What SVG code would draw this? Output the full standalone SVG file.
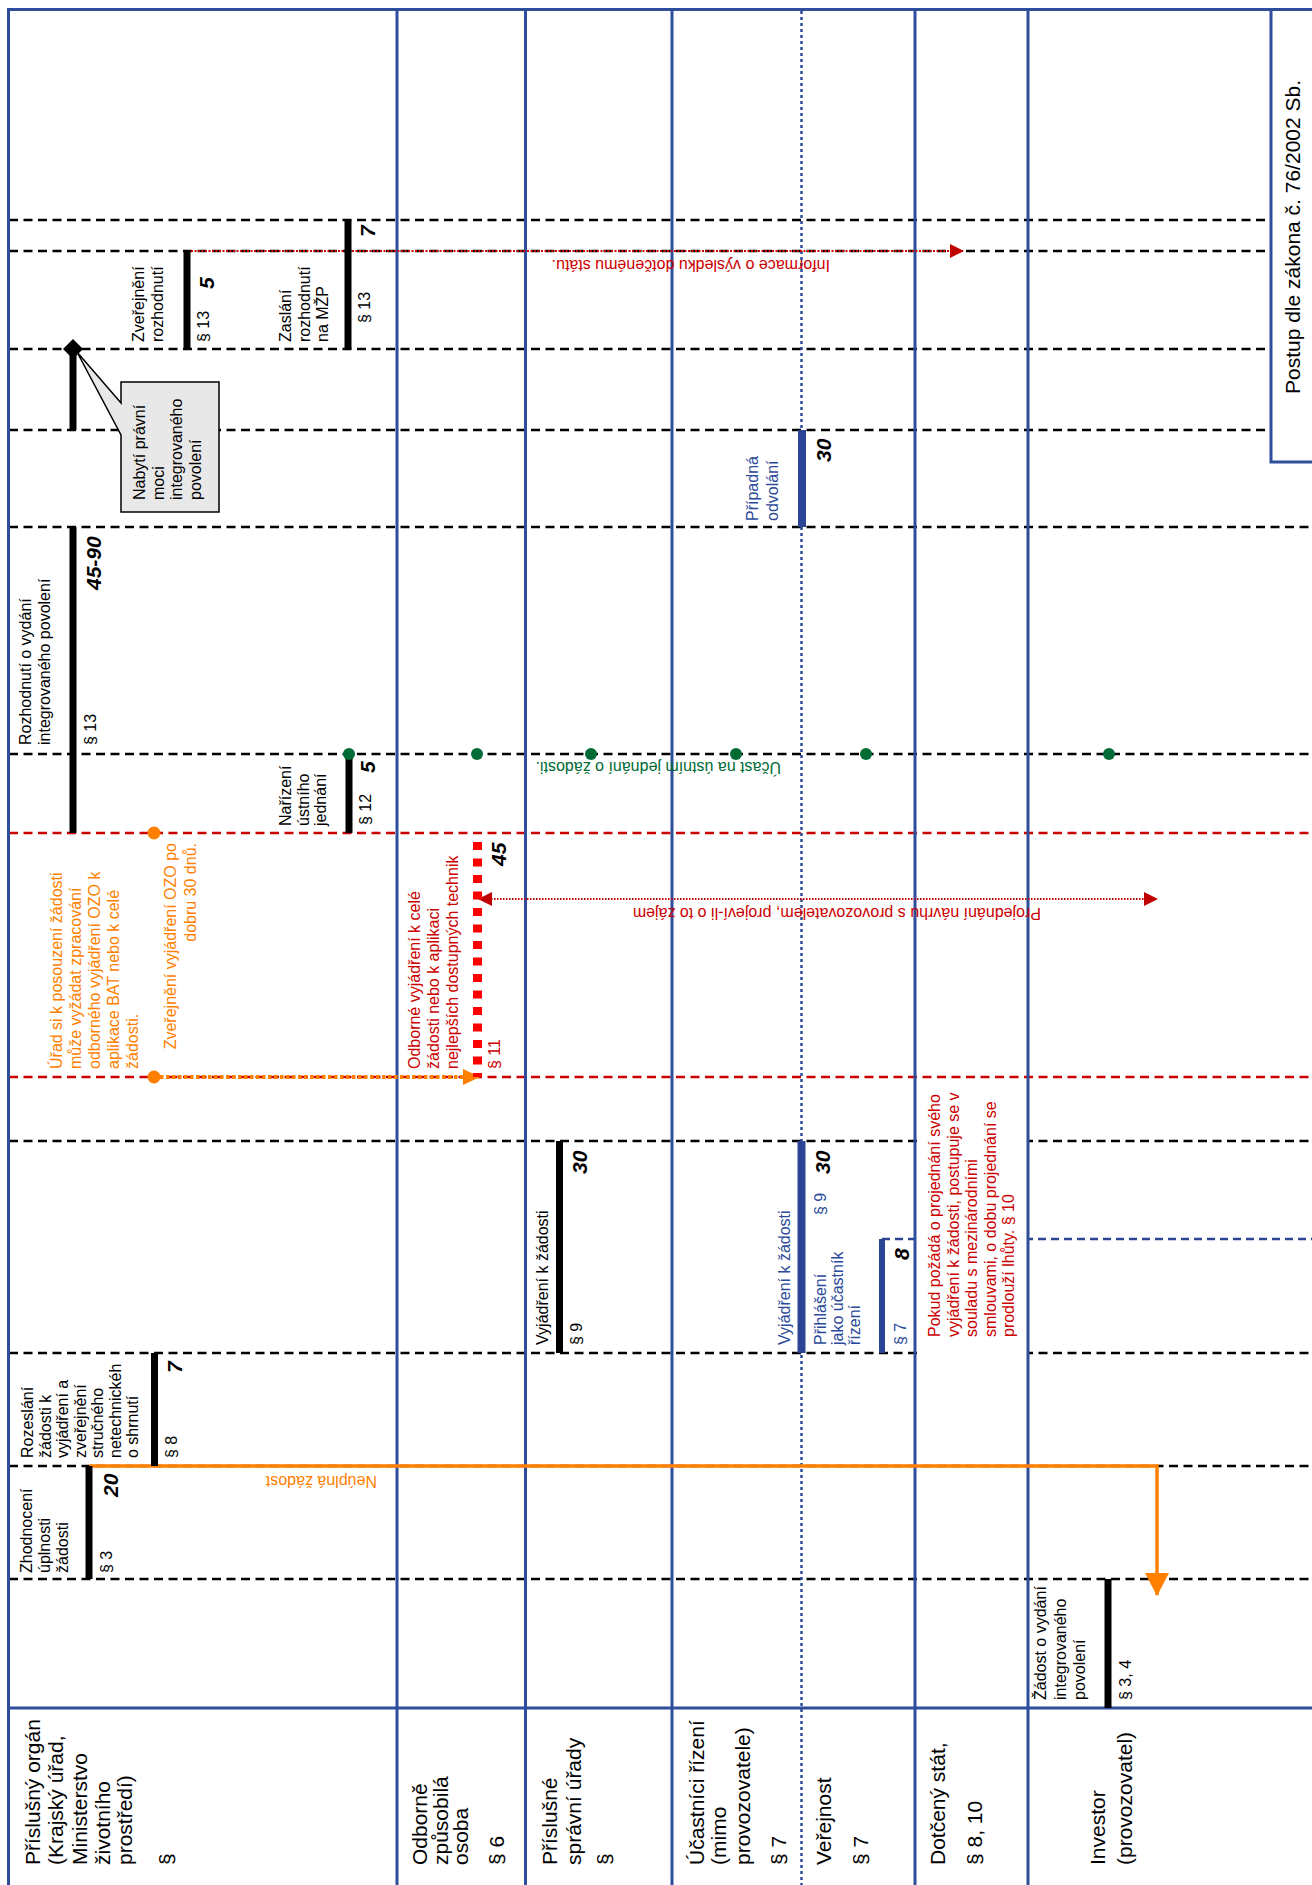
<svg xmlns="http://www.w3.org/2000/svg" width="1312" height="1885" viewBox="0 0 1312 1885">
<style>
.lane{stroke:#2e4d9b;stroke-width:3;fill:none}
.laned{stroke:#2e4d9b;stroke-width:2.5;stroke-dasharray:3 3;fill:none}
.dash{stroke:#000;stroke-width:2.5;stroke-dasharray:9 5.5;fill:none}
.rdash{stroke:#cc0000;stroke-width:2.5;stroke-dasharray:9 5.5;fill:none}
.bar{stroke:#000;stroke-width:7}
.bbar{stroke:#2b4594;stroke-width:8}
text{font-family:"Liberation Sans",Arial,sans-serif}
.t{font-size:16px;fill:#000}
.tb{font-size:16px;fill:#2b4a9a}
.tr{font-size:16px;fill:#cc0000}
.to{font-size:16px;fill:#ff8000}
.tg{font-size:16px;fill:#006b35}
.h{font-size:21px;fill:#000}
.n{font-size:21px;font-weight:bold;font-style:italic;fill:#000}
</style>
<defs>
<marker id="arrR" viewBox="0 0 14 14" refX="13" refY="7" markerWidth="14" markerHeight="14" orient="auto-start-reverse" markerUnits="userSpaceOnUse"><path d="M0,0 L14,7 L0,14 z" fill="#c00000"/></marker>
<marker id="arrO" viewBox="0 0 17 16" refX="16" refY="8" markerWidth="17" markerHeight="16" orient="auto" markerUnits="userSpaceOnUse"><path d="M0,0 L17,8 L0,16 z" fill="#ff8000"/></marker>
<marker id="arrOB" viewBox="0 0 23 24" refX="22" refY="12" markerWidth="23" markerHeight="24" orient="auto" markerUnits="userSpaceOnUse"><path d="M0,0 L23,12 L0,24 z" fill="#ff8000"/></marker>
</defs>
<rect x="0" y="0" width="1312" height="1885" fill="#fff"/>

<g id="timelines">
<line class="dash" x1="9" y1="220" x2="1271" y2="220"/>
<line class="dash" x1="9" y1="251" x2="1271" y2="251"/>
<line class="dash" x1="9" y1="349" x2="1271" y2="349"/>
<line class="dash" x1="9" y1="430" x2="1271" y2="430"/>
<line class="dash" x1="9" y1="527" x2="1312" y2="527"/>
<line class="dash" x1="9" y1="754" x2="1312" y2="754"/>
<line class="rdash" x1="9" y1="833" x2="1312" y2="833"/>
<line class="rdash" x1="9" y1="1077" x2="1312" y2="1077"/>
<line class="dash" x1="9" y1="1141" x2="1312" y2="1141"/>
<line class="dash" x1="9" y1="1353" x2="1312" y2="1353"/>
<line class="dash" x1="9" y1="1466" x2="1312" y2="1466"/>
<line class="dash" x1="9" y1="1579" x2="1312" y2="1579"/>
<line x1="882" y1="1239" x2="1312" y2="1239" stroke="#2b4594" stroke-width="2.5" stroke-dasharray="8 5"/>
</g>

<rect x="917" y="1085" width="110" height="275" fill="#fff"/>

<g id="lanes">
<line class="lane" x1="7" y1="9.5" x2="1312" y2="9.5"/>
<line class="lane" x1="8.5" y1="8" x2="8.5" y2="1885"/>
<line class="lane" x1="397" y1="8" x2="397" y2="1885"/>
<line class="lane" x1="525.5" y1="8" x2="525.5" y2="1885"/>
<line class="lane" x1="672" y1="8" x2="672" y2="1885"/>
<line class="laned" x1="801.5" y1="11" x2="801.5" y2="1885"/>
<line class="lane" x1="915" y1="8" x2="915" y2="1885"/>
<line class="lane" x1="1028" y1="8" x2="1028" y2="1885"/>
<line class="lane" x1="7" y1="1708" x2="1312" y2="1708"/>
<path class="lane" d="M1271,9.5 V462 H1312"/>
</g>

<g id="title">
<text class="h" text-anchor="middle" transform="translate(1300,237) rotate(-90)">Postup dle zákona č. 76/2002 Sb.</text>
</g>

<g id="headers">
<g id="h-prislusny-organ"><text class="h" transform="translate(40,1865) rotate(-90)"><tspan x="0" y="0">Příslušný orgán</tspan><tspan x="0" y="23">(Krajský úřad,</tspan><tspan x="0" y="47">Ministerstvo</tspan><tspan x="0" y="70">životního</tspan><tspan x="0" y="92">prostředí)</tspan><tspan x="0" y="134">§</tspan></text></g>
<g id="h-ozo"><text class="h" transform="translate(427,1865) rotate(-90)"><tspan x="0" y="0">Odborně</tspan><tspan x="0" y="20.5">způsobilá</tspan><tspan x="0" y="41">osoba</tspan><tspan x="0" y="77">§ 6</tspan></text></g>
<g id="h-urady"><text class="h" transform="translate(557,1865) rotate(-90)"><tspan x="0" y="0">Příslušné</tspan><tspan x="0" y="24">správní úřady</tspan><tspan x="0" y="55">§</tspan></text></g>
<g id="h-ucastnici"><text class="h" transform="translate(703.5,1865) rotate(-90)"><tspan x="0" y="0">Účastníci řízení</tspan><tspan x="0" y="22">(mimo</tspan><tspan x="0" y="46">provozovatele)</tspan><tspan x="0" y="82.5">§ 7</tspan></text></g>
<g id="h-verejnost"><text class="h" transform="translate(830.5,1865) rotate(-90)"><tspan x="0" y="0">Veřejnost</tspan><tspan x="0" y="37.5">§ 7</tspan></text></g>
<g id="h-dotceny-stat"><text class="h" transform="translate(945,1865) rotate(-90)"><tspan x="0" y="0">Dotčený stát,</tspan><tspan x="0" y="37">§ 8, 10</tspan></text></g>
<g id="h-investor"><text class="h" transform="translate(1105,1865) rotate(-90)"><tspan x="0" y="0">Investor</tspan><tspan x="0" y="27">(provozovatel)</tspan></text></g>
</g>

<g id="connectors">
<polyline points="89,1466 1157,1466 1157,1595" fill="none" stroke="#ff8000" stroke-width="3.5" marker-end="url(#arrOB)"/>
<text class="to" transform="translate(377,1476) rotate(180)">Neúplná žádost</text>
<line x1="154" y1="1077" x2="479" y2="1077" stroke="#ff8000" stroke-width="4" stroke-dasharray="3.5 2.5" marker-end="url(#arrO)"/>
<line x1="479" y1="899" x2="1157" y2="899" stroke="#c00000" stroke-width="2" stroke-dasharray="1.5 1.5" marker-start="url(#arrR)" marker-end="url(#arrR)"/>
<text class="tr" transform="translate(1041,908) rotate(180)">Projednání návrhu s provozovatelem, projeví-li o to zájem</text>
<line x1="191" y1="251" x2="963" y2="251" stroke="#cc0000" stroke-width="2" stroke-dasharray="2 1.5" marker-end="url(#arrR)"/>
<text class="tr" transform="translate(830,259.5) rotate(180)">Informace o výsledku dotčenému státu.</text>
</g>

<g id="n-zadost">
<line class="bar" x1="1108" y1="1579" x2="1108" y2="1708"/>
<text class="t" transform="translate(1046,1700) rotate(-90)"><tspan x="0" y="0">Žádost o vydání</tspan><tspan x="0" y="20">integrovaného</tspan><tspan x="0" y="39">povolení</tspan></text>
<text class="t" transform="translate(1131,1700) rotate(-90)">§ 3, 4</text>
</g>

<g id="n-zhodnoceni">
<line class="bar" x1="89" y1="1466" x2="89" y2="1579"/>
<text class="t" transform="translate(32,1573) rotate(-90)"><tspan x="0" y="0">Zhodnocení</tspan><tspan x="0" y="18">úplnosti</tspan><tspan x="0" y="36">žádosti</tspan></text>
<text class="t" transform="translate(112,1573) rotate(-90)">§ 3</text>
<text class="n" transform="translate(118,1497) rotate(-90)">20</text>
</g>

<g id="n-rozeslani">
<line class="bar" x1="154.5" y1="1353" x2="154.5" y2="1466"/>
<text class="t" transform="translate(33,1458) rotate(-90)"><tspan x="0" y="0">Rozeslání</tspan><tspan x="0" y="17.5">žádosti k</tspan><tspan x="0" y="35">vyjádření a</tspan><tspan x="0" y="52.5">zveřejnění</tspan><tspan x="0" y="70">stručného</tspan><tspan x="0" y="87.5">netechnickéh</tspan><tspan x="0" y="105">o shrnutí</tspan></text>
<text class="t" transform="translate(177,1458) rotate(-90)">§ 8</text>
<text class="n" transform="translate(182,1373) rotate(-90)">7</text>
</g>

<g id="n-vyjadreni-urady">
<line class="bar" x1="559.5" y1="1141" x2="559.5" y2="1353"/>
<text class="t" transform="translate(548,1345) rotate(-90)">Vyjádření k žádosti</text>
<text class="t" transform="translate(582,1345) rotate(-90)">§ 9</text>
<text class="n" transform="translate(587,1174) rotate(-90)">30</text>
</g>

<g id="n-vyjadreni-verejnost">
<line class="bbar" x1="801.5" y1="1141" x2="801.5" y2="1353"/>
<text class="tb" transform="translate(790,1345) rotate(-90)">Vyjádření k žádosti</text>
<text class="tb" transform="translate(826,1215) rotate(-90)">§ 9</text>
<text class="n" transform="translate(830,1174) rotate(-90)">30</text>
</g>

<g id="n-prihlaseni">
<line class="bbar" x1="882" y1="1239" x2="882" y2="1353" style="stroke-width:6"/>
<text class="tb" transform="translate(826,1345) rotate(-90)"><tspan x="0" y="0">Přihlášení</tspan><tspan x="0" y="17">jako účastník</tspan><tspan x="0" y="34">řízení</tspan></text>
<text class="tb" transform="translate(906,1345) rotate(-90)">§ 7</text>
<text class="n" transform="translate(909,1260) rotate(-90)">8</text>
</g>

<g id="n-dotceny-stat">
<text class="tr" transform="translate(940,1337) rotate(-90)"><tspan x="0" y="0">Pokud požádá o projednání svého</tspan><tspan x="0" y="18.5">vyjádření k žádosti, postupuje se v</tspan><tspan x="0" y="37">souladu s mezinárodními</tspan><tspan x="0" y="55.5">smlouvami, o dobu projednání se</tspan><tspan x="0" y="74">prodlouží lhůty. § 10</tspan></text>
</g>

<g id="n-urad-ozo">
<circle cx="154" cy="833" r="6.5" fill="#ff8000"/>
<circle cx="154" cy="1077" r="6.5" fill="#ff8000"/>
<text class="to" transform="translate(62,1069) rotate(-90)"><tspan x="0" y="0">Úřad si k posouzení žádosti</tspan><tspan x="0" y="19">může vyžádat zpracování</tspan><tspan x="0" y="38">odborného vyjádření OZO k</tspan><tspan x="0" y="57">aplikace BAT nebo k celé</tspan><tspan x="0" y="76">žádosti.</tspan></text>
<text class="to" text-anchor="end" transform="translate(176,843) rotate(-90)"><tspan x="0" y="0">Zveřejnění vyjádření OZO po</tspan><tspan x="0" y="19.5">dobru 30 dnů.</tspan></text>
</g>

<g id="n-ozo">
<line x1="477.5" y1="842" x2="477.5" y2="1077" stroke="#ff0000" stroke-width="9" stroke-dasharray="8 8.5"/>
<text class="tr" transform="translate(420,1069) rotate(-90)"><tspan x="0" y="0">Odborné vyjádření k celé</tspan><tspan x="0" y="19">žádosti nebo k aplikaci</tspan><tspan x="0" y="38">nejlepších dostupných technik</tspan></text>
<text class="tr" transform="translate(500,1069) rotate(-90)">§ 11</text>
<text class="n" transform="translate(506,866) rotate(-90)">45</text>
</g>

<g id="n-rozhodnuti">
<line class="bar" x1="73" y1="527" x2="73" y2="833"/>
<text class="t" transform="translate(31,745) rotate(-90)"><tspan x="0" y="0">Rozhodnutí o vydání</tspan><tspan x="0" y="18.5">integrovaného povolení</tspan></text>
<text class="t" transform="translate(96,745) rotate(-90)">§ 13</text>
<text class="n" transform="translate(101,590) rotate(-90)">45-90</text>
</g>

<g id="n-narizeni">
<line class="bar" x1="349" y1="754" x2="349" y2="833"/>
<text class="t" transform="translate(291,826) rotate(-90)"><tspan x="0" y="0">Nařízení</tspan><tspan x="0" y="17.5">ústního</tspan><tspan x="0" y="35">jednání</tspan></text>
<text class="t" transform="translate(371,825) rotate(-90)">§ 12</text>
<text class="n" transform="translate(375,773) rotate(-90)">5</text>
</g>

<g id="n-ucast">
<circle cx="349" cy="754" r="6" fill="#006b35"/>
<circle cx="477" cy="754" r="6" fill="#006b35"/>
<circle cx="591" cy="754" r="6" fill="#006b35"/>
<circle cx="736" cy="754" r="6" fill="#006b35"/>
<circle cx="866" cy="754" r="6" fill="#006b35"/>
<circle cx="1109" cy="754" r="6" fill="#006b35"/>
<text class="tg" transform="translate(781,762) rotate(180)">Účast na ústním jednání o žádosti.</text>
</g>

<g id="n-zverejneni-rozhodnuti">
<line class="bar" x1="187" y1="251" x2="187" y2="349"/>
<text class="t" transform="translate(144,342) rotate(-90)"><tspan x="0" y="0">Zveřejnění</tspan><tspan x="0" y="19">rozhodnutí</tspan></text>
<text class="t" transform="translate(209,342) rotate(-90)">§ 13</text>
<text class="n" transform="translate(214,289) rotate(-90)">5</text>
</g>

<g id="n-zaslani">
<line class="bar" x1="348" y1="220" x2="348" y2="349"/>
<text class="t" transform="translate(291,342) rotate(-90)"><tspan x="0" y="0">Zaslání</tspan><tspan x="0" y="18.5">rozhodnutí</tspan><tspan x="0" y="37">na MŽP</tspan></text>
<text class="t" transform="translate(370,323) rotate(-90)">§ 13</text>
<text class="n" transform="translate(375,237) rotate(-90)">7</text>
</g>

<g id="n-nabyti">
<line class="bar" x1="73" y1="349" x2="73" y2="430"/>
<polygon points="73,339 83,349 73,359 63,349" fill="#000"/>
<path d="M121,382 H219 V512 H121 V435 L77,352 L121,403 Z" fill="#e8e8e8" stroke="#000" stroke-width="1.5"/>
<text class="t" transform="translate(145,500) rotate(-90)"><tspan x="0" y="0">Nabytí právní</tspan><tspan x="0" y="18.5">moci</tspan><tspan x="0" y="37">integrovaného</tspan><tspan x="0" y="55.5">povolení</tspan></text>
</g>

<g id="n-odvolani">
<line class="bbar" x1="802" y1="430" x2="802" y2="527"/>
<text class="tb" transform="translate(758,521) rotate(-90)"><tspan x="0" y="0">Případná</tspan><tspan x="0" y="20">odvolání</tspan></text>
<text class="n" transform="translate(831,462) rotate(-90)">30</text>
</g>
</svg>
